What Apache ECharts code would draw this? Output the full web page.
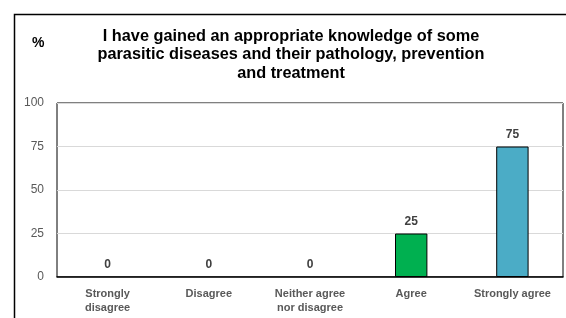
<!DOCTYPE html>
<html><head><meta charset="utf-8">
<script src="https://cdn.jsdelivr.net/npm/echarts@6/dist/echarts.min.js"></script>
<style>html,body{margin:0;padding:0;background:#fff}#c{width:566px;height:318px}</style>
</head><body><div id="c"></div>
<script>
const categories = ['Strongly\ndisagree', 'Disagree', 'Neither agree\nnor disagree', 'Agree', 'Strongly agree'];
const values = [0, 0, 0, 25, 75];
const barColors = ['#00b050', '#00b050', '#00b050', '#00b050', '#4bacc6'];
const yTicks = [0, 25, 50, 75, 100];
const titleText = 'I have gained an appropriate knowledge of some\nparasitic diseases and their pathology, prevention\nand treatment';

const chart = echarts.init(document.getElementById('c'), null, {renderer: 'canvas'});
chart.setOption({
  animation: false,
  backgroundColor: '#fff',
  graphic: [
    {type: 'rect', left: 12, top: 12, shape: {width: 620, height: 400}, style: {fill: 'none', stroke: '#000', lineWidth: 1.5}, z: -1},
    {type: 'text', left: 32, top: 36, style: {text: '%', font: 'bold 14px "Liberation Sans", Arial', fill: '#000'}}
  ],
  title: {
    text: titleText,
    left: 286, top: 22, textAlign: 'center',
    textStyle: {fontFamily: '"Liberation Sans", Arial', fontWeight: 'bold', fontSize: 16.3, color: '#000', lineHeight: 18.5}
  },
  grid: {left: 57, right: 3, top: 103, bottom: 41, show: true, borderColor: '#000', borderWidth: 1},
  xAxis: {
    type: 'category', data: categories,
    axisLine: {lineStyle: {color: '#000', width: 1.5}},
    axisTick: {show: false},
    axisLabel: {fontFamily: '"Liberation Sans", Arial', fontWeight: 'bold', fontSize: 11, color: '#595959', lineHeight: 14, margin: 10, interval: 0}
  },
  yAxis: {
    type: 'value', min: 0, max: 100, interval: 25,
    axisLine: {show: false}, axisTick: {show: false},
    splitLine: {lineStyle: {color: '#d9d9d9', width: 1}},
    axisLabel: {fontFamily: '"Liberation Sans", Arial', fontSize: 12, color: '#595959', margin: 13,
      formatter: v => yTicks.includes(v) ? String(v) : ''}
  },
  series: [{
    type: 'bar', barWidth: '32%',
    data: values.map((v, i) => ({value: v, itemStyle: {color: barColors[i], borderWidth: v === 0 ? 0 : 1}})),
    itemStyle: {borderColor: '#000', borderWidth: 1},
    label: {show: true, position: 'top', distance: 6, fontFamily: '"Liberation Sans", Arial', fontWeight: 'bold', fontSize: 12, color: '#404040'}
  }]
});
</script></body></html>
